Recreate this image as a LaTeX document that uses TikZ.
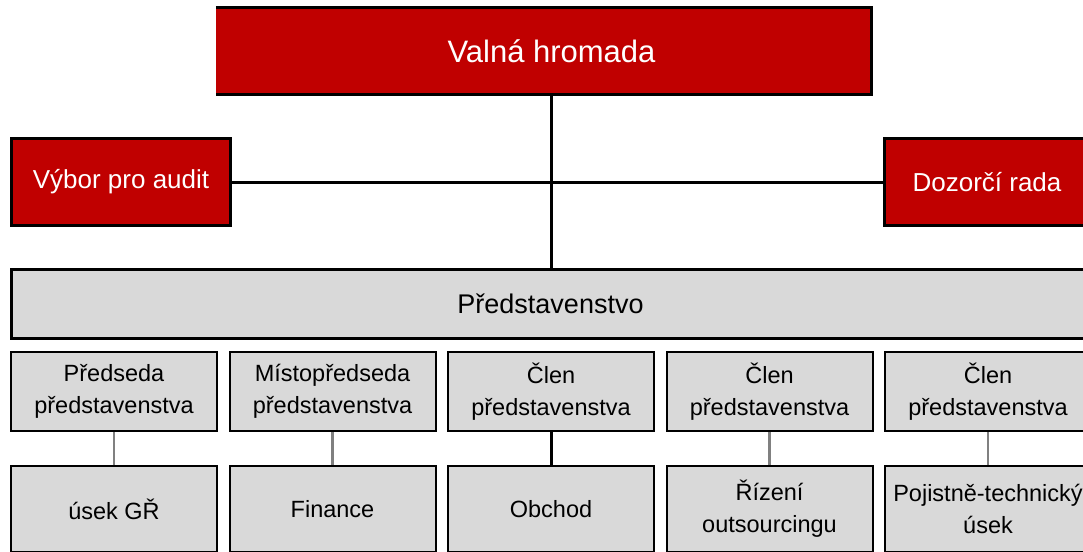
\documentclass[tikz,border=0pt]{standalone}
\usepackage{fontspec}
\setmainfont{Liberation Sans}
\usetikzlibrary{backgrounds}
\definecolor{vred}{HTML}{C00000}
\definecolor{vgray}{HTML}{D9D9D9}
\definecolor{lgray}{HTML}{808080}
\begin{document}
\begin{tikzpicture}[x=1pt,y=-1pt,
  redbox/.style={rectangle, fill=vred, draw=black, line width=3pt, text=white, inner sep=0pt,
    minimum height=87pt, font=\fontsize{26}{30}\selectfont},
  topbox/.style={rectangle, fill=vred, draw=none, text=white, inner sep=0pt,
    minimum width=655.5pt, minimum height=87pt, font=\fontsize{31}{36}\selectfont},
  boardbox/.style={rectangle, fill=vgray, draw=black, line width=3pt, inner sep=0pt,
    minimum width=1078pt, minimum height=69pt, font=\fontsize{27}{32}\selectfont},
  memberbox/.style={rectangle, fill=vgray, draw=black, line width=2pt, inner sep=0pt,
    minimum width=206pt, minimum height=79pt, align=center, font=\fontsize{23.5}{32}\selectfont},
  deptbox/.style={rectangle, fill=vgray, draw=black, line width=2pt, inner sep=0pt,
    minimum width=206pt, minimum height=86pt, align=center, font=\fontsize{23.5}{32}\selectfont},
  mainline/.style={draw=black, line width=3pt},
  thinline/.style={draw=lgray, line width=2.4pt},
  thickline/.style={draw=black, line width=3pt},
  edgeline/.style={draw=black, line width=3pt, line join=miter}]
\useasboundingbox (0,0) rectangle (1083,551);
\clip (0,0) rectangle (1083,551);

% top box
\node[topbox] (vh) at (543.75,51) {\hspace*{15.5pt}Valná hromada};
\draw[edgeline] (vh.north west) -- (vh.north east) -- (vh.south east) -- (vh.south west);

% side boxes
\node[redbox, minimum width=219pt] (va) at (121,182) {Výbor pro audit};
\node[redbox, minimum width=205pt] (dr) at (987,182) {Dozorčí rada};

% board
\node[boardbox] (pr) at (550.5,304) {Představenstvo};

% members
\node[memberbox] (m1) at (114,391.5) {Předseda\\představenstva};
\node[memberbox] (m2) at (332.5,391.5) {Místopředseda\\představenstva};
\node[memberbox] (m3) at (551,391.5) {Člen\\představenstva};
\node[memberbox] (m4) at (769.5,391.5) {Člen\\představenstva};
\node[memberbox] (m5) at (988,391.5) {Člen\\představenstva};

% departments
\node[deptbox] (d1) at (114,509) {úsek GŘ};
\node[deptbox] (d2) at (332.5,509) {Finance};
\node[deptbox] (d3) at (551,509) {Obchod};
\node[deptbox] (d4) at (769.5,509) {Řízení\\outsourcingu};
\node[deptbox] (d5) at (988,509) {Pojistně-technický\\úsek};

\coordinate (j) at (551.5,182.5);
\begin{scope}[on background layer]
  \draw[mainline] (vh.south -| j) -- (pr.north -| j);
  \draw[mainline] (va.east) -- (dr.west);
  \draw[thinline] (m1.south) -- (d1.north);
  \draw[thinline] (m2.south) -- (d2.north);
  \draw[thickline] (m3.south) -- (d3.north);
  \draw[thinline] (m4.south) -- (d4.north);
  \draw[thinline] (m5.south) -- (d5.north);
\end{scope}
\end{tikzpicture}
\end{document}
